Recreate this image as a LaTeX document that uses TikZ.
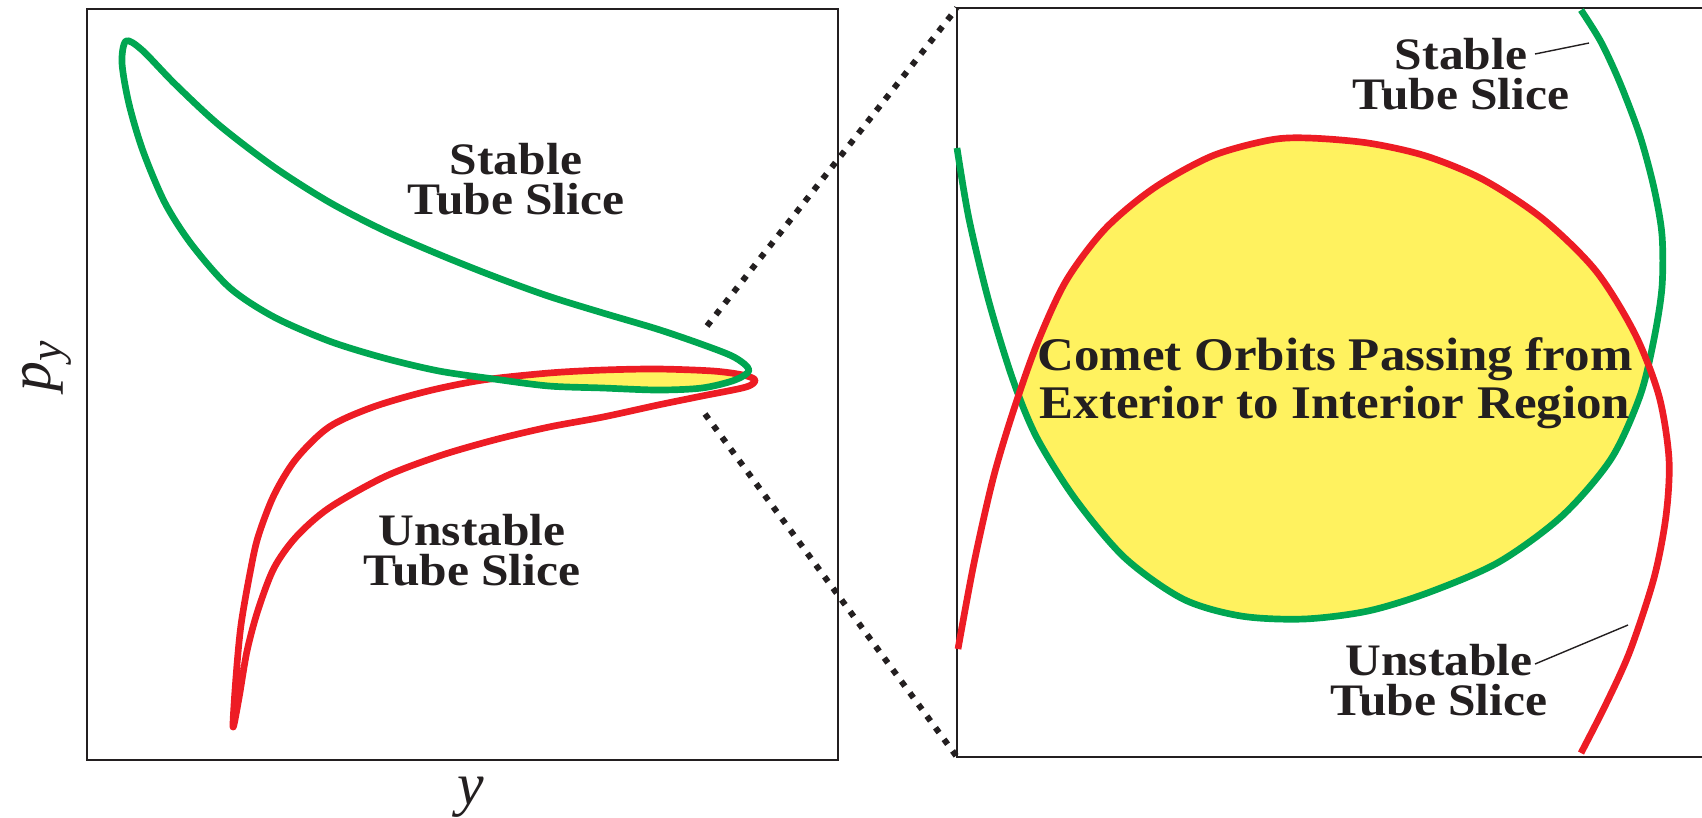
\documentclass[tikz,border=0pt]{standalone}
\usepackage{fontspec}
\setmainfont{Liberation Serif}
\newfontfamily\tagfont[FakeStretch=1.10]{Liberation Serif}
\newfontfamily\regionfont[FakeStretch=1.09]{Liberation Serif}

\definecolor{tubegreen}{HTML}{00A651}
\definecolor{tubered}{HTML}{ED1C24}
\definecolor{lensyellow}{HTML}{FFF25F}
\definecolor{inkdark}{HTML}{231F20}

% tube slices, left panel (closed loops)
\newcommand{\stableloop}{plot[smooth cycle] coordinates {(126,41) (142,50) (175,84) (219,125) (274,167) (329,202) (383,230) (438,254) (493,276) (548,296) (603,313) (657,329) (701,344) (734,357) (749,370) (735,380) (702,388) (658,390) (603,388) (549,386) (494,379) (439,371) (384,358) (329,341) (274,317) (230,288) (192,245) (165,203) (143,151) (129,104) (122,63)}}
\newcommand{\unstableloop}{plot[smooth cycle] coordinates {(233,727) (236,677) (241,625) (250,573) (258,537) (274,495) (296,459) (329,427) (373,407) (428,391) (483,380) (549,373) (603,370) (658,369) (713,371) (743,375) (755,380) (746,387) (702,396) (658,405) (603,417) (549,427) (494,440) (439,456) (384,477) (329,508) (296,537) (274,568) (258,610) (247,651) (239,698)}}
% tube slices, right panel (close-up)
\newcommand{\stablearc}{plot[smooth] coordinates {(957,148) (969,219) (989,302) (1013,380) (1037,438) (1076,500) (1125,558) (1183,599) (1241,616) (1304,619) (1368,611) (1430,592) (1499,562) (1562,516) (1611,459) (1640,396) (1654,339) (1662,287) (1662,235) (1654,188) (1640,136) (1620,83) (1601,42) (1581,10)}}
\newcommand{\unstablearc}{plot[smooth] coordinates {(958,649) (974,563) (993,479) (1013,412) (1037,344) (1066,281) (1105,229) (1154,188) (1212,156) (1270,140) (1309,138) (1368,143) (1426,156) (1484,180) (1543,219) (1596,271) (1635,334) (1659,396) (1669,459) (1666,516) (1654,578) (1630,651) (1606,704) (1581,753)}}

\begin{document}
\begin{tikzpicture}[x=0.01cm, y=-0.01cm,
    frame/.style={draw=inkdark, line width=0.57pt},
    tube/.style={line width=1.9pt, line join=round},
    zoomline/.style={draw=inkdark, line width=1.7pt, dash pattern=on 1.7pt off 2.4pt},
    tag/.style={align=center, text=inkdark, inner sep=0pt, anchor=base,
      font=\tagfont\bfseries\fontsize{12.8}{11.3}\selectfont},
    region/.style={align=center, text=inkdark, inner sep=0pt, anchor=base,
      font=\regionfont\bfseries\fontsize{13.3}{13.5}\selectfont},
    axislabel/.style={text=inkdark, inner sep=0pt, font=\fontsize{17}{20}\selectfont},
    leader/.style={draw=inkdark, line width=0.4pt}]
  \useasboundingbox (0,0) rectangle (1702,817);

  % Left panel
  \draw[frame] (87.3,9.3) rectangle (838.3,760);
  \begin{scope}
    \clip \stableloop;
    \fill[lensyellow] \unstableloop;
  \end{scope}
  \draw[tube, tubered] \unstableloop;
  \draw[tube, tubegreen] \stableloop;

  \node[tag] (lstable) at (516,214) {Stable\\Tube Slice};
  \node[tag] (lunstable) at (472,585) {Unstable\\Tube Slice};
  \node[axislabel] (ylabel) at (471,797) {\textit{y}};
  \node[axislabel, rotate=90] (pylabel) at (47,366)
    {\textit{p}\raisebox{-0.18em}{\fontsize{13}{13}\selectfont\textit{y}}};

  % Right panel
  \coordinate (inset nw) at (957,8);
  \coordinate (inset sw) at (957,757);
  \draw[frame] (1702,8) -- (inset nw) -- (inset sw) -- (1702,757);
  \begin{scope}
    \clip \stablearc -- cycle;
    \fill[lensyellow] \unstablearc -- cycle;
  \end{scope}
  \draw[tube, tubegreen] \stablearc;
  \draw[tube, tubered] \unstablearc;

  \node[region] (passing) at (1335,418) {Comet Orbits Passing from\\Exterior to Interior Region};
  \node[tag] (rstable) at (1461,109) {Stable\\Tube Slice};
  \node[tag] (runstable) at (1439,715) {Unstable\\Tube Slice};
  \coordinate (stable foot) at (1589,43);
  \coordinate (unstable foot) at (1628,625);
  \draw[leader] (1535,54) -- (stable foot);
  \draw[leader] (1535,664) -- (unstable foot);

  % Zoom lines
  \coordinate (lens up) at (707,326);
  \coordinate (lens down) at (705,414);
  \draw[zoomline] (lens up) -- (inset nw);
  \draw[zoomline] (lens down) -- (inset sw);
\end{tikzpicture}
\end{document}
